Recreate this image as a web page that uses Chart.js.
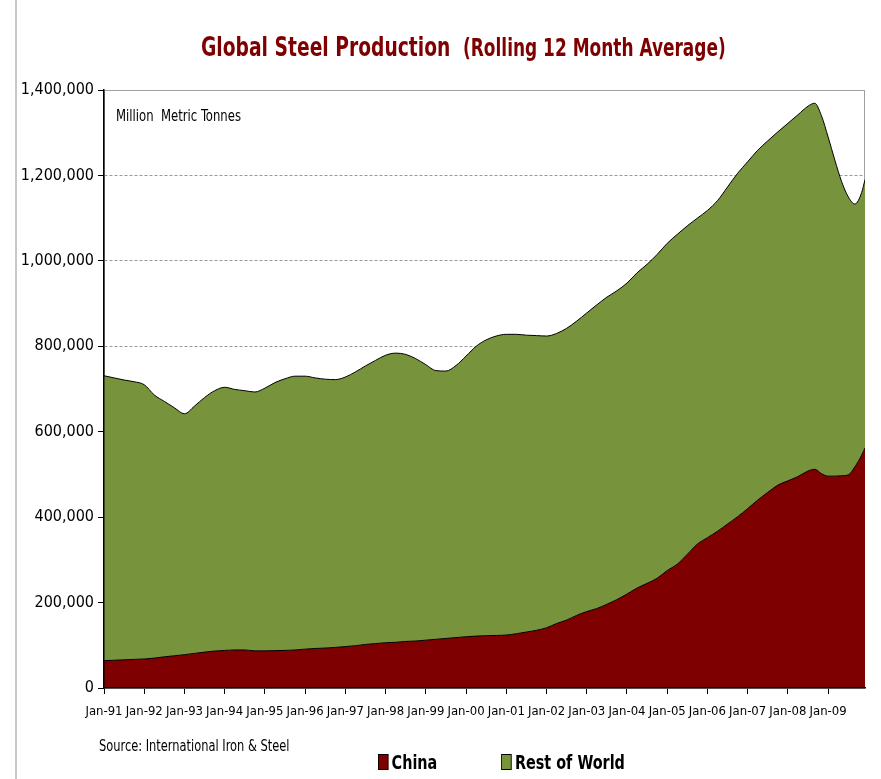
<!DOCTYPE html>
<html>
<head>
<meta charset="utf-8">
<title>Global Steel Production</title>
<script src="https://cdn.jsdelivr.net/npm/chart.js@4.4.1/dist/chart.umd.min.js"></script>
<style>
    html, body { margin: 0; padding: 0; background: #fff; }
    body {
        width: 881px; height: 779px; position: relative; overflow: hidden;
        font-family: 'DejaVu Sans Condensed', 'DejaVu Sans', sans-serif;
    }
    #frame { position: absolute; left: 15px; top: 0; width: 2px; height: 779px; background: #c8c8c8; }
    #chart { position: absolute; left: 0; top: 0; }
    .narrow { transform-origin: 0 0; white-space: nowrap; }
    .title { position: absolute; color: #7f0000; font-weight: bold; line-height: 1; }
    #title-main { left: 201px; top: 33px; font-size: 27px; transform: scaleX(0.77); }
    #title-sub { left: 463px; top: 35px; font-size: 25px; transform: scaleX(0.755); }
    #units { position: absolute; left: 116px; top: 108px; font-size: 16px; line-height: 1; white-space: pre; transform: scaleX(0.81); }
    #source { position: absolute; left: 99px; top: 739px; font-size: 15.5px; line-height: 1; transform: scaleX(0.82); }
    #legend { position: absolute; left: 378px; top: 752px; display: flex; font-weight: bold; font-size: 20px; line-height: 1; transform: scaleX(0.8); }
    .legend-item { display: flex; align-items: center; margin-right: 80px; }
    .legend-box { width: 11px; height: 14px; border: 1px solid #000; margin-right: 4px; }
</style>
</head>
<body>
<div id="frame"></div>
<canvas id="chart" width="881" height="779"></canvas>
<div class="title narrow" id="title-main">Global Steel Production</div>
<div class="title narrow" id="title-sub">(Rolling 12 Month Average)</div>
<div class="narrow" id="units">Million  Metric Tonnes</div>
<div class="narrow" id="source">Source: International Iron &amp; Steel</div>
<div class="narrow" id="legend"></div>

<script>
// months counted from Jan-91 (0 = Jan-91)
const monthIndex = [0, 3, 6, 9, 12, 15, 18, 21, 24, 27, 30, 33, 36, 39, 42, 45, 48, 51, 54, 57,
    60, 63, 66, 69, 72, 75, 78, 81, 84, 87, 90, 93, 96, 99, 102, 105, 108, 111, 114, 117,
    120, 123, 126, 129, 132, 135, 138, 141, 144, 147, 150, 153, 156, 159, 162, 165, 168, 171, 174, 177,
    180, 183, 186, 189, 192, 195, 198, 201, 204, 207, 210, 212, 214, 216, 218, 220, 222, 224, 226, 227];

const china = [64000, 65000, 66000, 67000, 68000, 70000, 73000, 75500, 78000, 81000,
    84000, 86500, 88000, 89000, 89000, 87000, 87000, 87500, 88000, 89000,
    91000, 92500, 93500, 95000, 97000, 99000, 102000, 104000, 106000, 107000,
    109000, 110000, 112000, 114000, 116000, 118000, 120000, 121500, 122500, 123000,
    124000, 127000, 131000, 135000, 141000, 151000, 159000, 170000, 179000, 186000,
    196000, 207000, 220000, 234000, 245000, 257000, 275000, 290000, 313000, 337000,
    352000, 367000, 384000, 401000, 420000, 440000, 458000, 475000, 485000, 495000,
    508000, 512000, 502000, 496000, 496000, 497000, 499000, 518000, 545000, 562000];

const restOfWorld = [667000, 661000, 655000, 650000, 642000, 616000, 598000, 580500, 564000, 579000,
    596000, 609500, 616000, 610000, 607000, 606000, 615000, 627500, 636000, 641000,
    639000, 633500, 629500, 627000, 631000, 641000, 652000, 663000, 673000, 677000,
    672000, 661000, 645000, 629000, 626000, 637000, 657000, 678500, 692500, 701000,
    704000, 701000, 695000, 690000, 683000, 679000, 683000, 689000, 699000, 711000,
    719000, 723000, 728000, 738000, 747000, 758000, 766000, 772000, 769000, 763000,
    766000, 774000, 789000, 804000, 812000, 819000, 823000, 827000, 837000, 847000,
    854000, 857000, 838000, 794000, 740000, 689000, 651000, 615000, 615000, 628000];

const yearLabels = ['Jan-91', 'Jan-92', 'Jan-93', 'Jan-94', 'Jan-95', 'Jan-96', 'Jan-97', 'Jan-98', 'Jan-99', 'Jan-00',
    'Jan-01', 'Jan-02', 'Jan-03', 'Jan-04', 'Jan-05', 'Jan-06', 'Jan-07', 'Jan-08', 'Jan-09'];

const yTicks = [0, 200000, 400000, 600000, 800000, 1000000, 1200000, 1400000];

function toPoints(values) {
    return values.map((v, i) => ({ x: monthIndex[i], y: v }));
}

Chart.defaults.font.family = "'DejaVu Sans Condensed', 'DejaVu Sans', sans-serif";
Chart.defaults.color = '#000';

// gray frame round the plot area (Excel style)
const plotFrame = {
    id: 'plotFrame',
    beforeDatasetsDraw(chart) {
        const { ctx, chartArea: a } = chart;
        ctx.save();
        ctx.strokeStyle = '#a0a0a0';
        ctx.lineWidth = 1;
        ctx.strokeRect(a.left + 0.5, a.top + 0.5, a.width - 1, a.height);
        ctx.restore();
    }
};

const chart = new Chart(document.getElementById('chart'), {
    type: 'line',
    data: {
        datasets: [{
            label: 'China',
            data: toPoints(china),
            backgroundColor: '#7f0000',
            borderColor: '#000',
            borderWidth: 1,
            fill: 'origin',
            pointRadius: 0,
            cubicInterpolationMode: 'monotone'
        }, {
            label: 'Rest of World',
            data: toPoints(restOfWorld),
            backgroundColor: '#77933c',
            borderColor: '#000',
            borderWidth: 1,
            fill: '-1',
            pointRadius: 0,
            cubicInterpolationMode: 'monotone'
        }]
    },
    options: {
        responsive: false,
        animation: false,
        layout: { padding: { top: 90, right: 16, bottom: 51, left: 0 } },
        plugins: {
            legend: { display: false },
            title: { display: false },
            tooltip: { enabled: false }
        },
        scales: {
            x: {
                type: 'linear',
                min: 0,
                max: 227,
                ticks: {
                    stepSize: 12,
                    includeBounds: false,
                    autoSkip: false,
                    maxRotation: 0,
                    padding: 10,
                    font: { size: 13 },
                    callback: (value) => yearLabels[value / 12]
                },
                grid: { drawOnChartArea: false, tickLength: 6, tickColor: '#000' },
                border: { color: '#000', width: 1.5, z: 1 },
                afterFit: (scale) => { scale.height = 40; }
            },
            y: {
                stacked: true,
                min: 0,
                max: 1400000,
                afterBuildTicks: (scale) => { scale.ticks = yTicks.map(v => ({ value: v })); },
                ticks: {
                    padding: 4,
                    font: { size: 16 },
                    callback: (value) => value.toLocaleString('en-US')
                },
                grid: { color: '#9a9a9a', lineWidth: 1, tickLength: 6, tickColor: '#000' },
                border: { color: '#000', width: 1.5, dash: [3, 2], z: 1 },
                afterFit: (scale) => { scale.width = 104; }
            }
        }
    },
    plugins: [plotFrame]
});

// legend built from the datasets
const legend = document.getElementById('legend');
chart.data.datasets.forEach(ds => {
    const item = document.createElement('div');
    item.className = 'legend-item';
    const box = document.createElement('span');
    box.className = 'legend-box';
    box.style.background = ds.backgroundColor;
    const text = document.createElement('span');
    text.textContent = ds.label;
    item.appendChild(box);
    item.appendChild(text);
    legend.appendChild(item);
});
</script>
</body>
</html>
